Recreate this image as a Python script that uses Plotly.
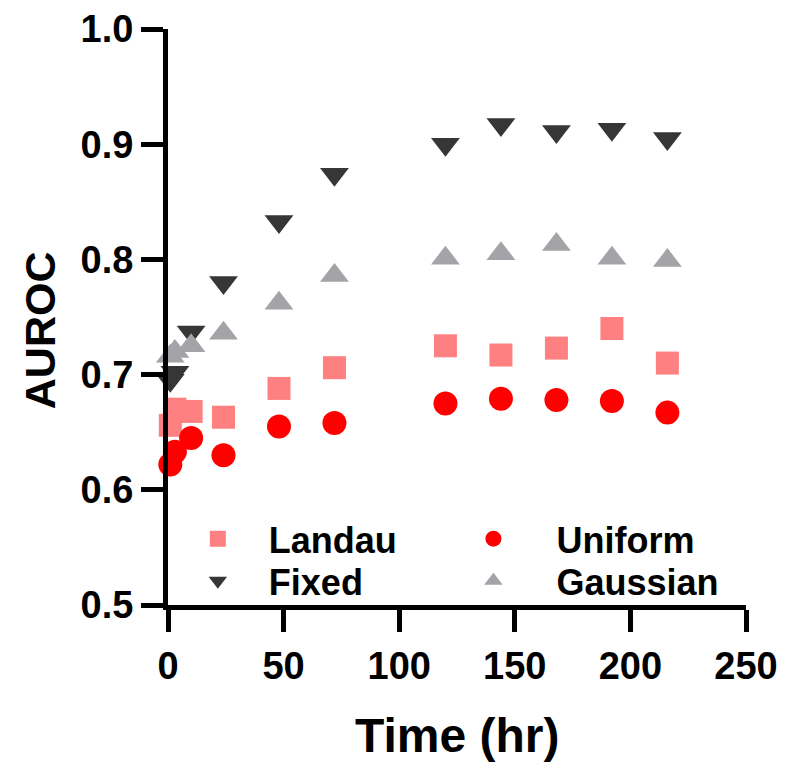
import plotly.graph_objects as go

# ---- data ----
time_hr = [1, 3, 10, 24, 48, 72, 120, 144, 168, 192, 216]
landau = [0.656, 0.670, 0.668, 0.663, 0.688, 0.706, 0.725, 0.717, 0.723, 0.740, 0.710]
uniform = [0.622, 0.633, 0.645, 0.630, 0.655, 0.658, 0.675, 0.679, 0.678, 0.677, 0.667]
fixed = [0.695, 0.702, 0.737, 0.780, 0.833, 0.874, 0.900, 0.917, 0.911, 0.913, 0.905]
gaussian = [0.716, 0.720, 0.725, 0.736, 0.762, 0.786, 0.801, 0.805, 0.813, 0.801, 0.799]

x_ticks = [0, 50, 100, 150, 200, 250]
y_ticks = [0.5, 0.6, 0.7, 0.8, 0.9, 1.0]
y_tick_text = ["0.5", "0.6", "0.7", "0.8", "0.9", "1.0"]
x_title = "Time (hr)"
y_title = "AUROC"

FONT = "Liberation Sans, Arial, Helvetica, sans-serif"

series = [
    ("Fixed", fixed, "triangle-down", "#363636", 25, "legend3"),
    ("Gaussian", gaussian, "triangle-up", "#A3A3A8", 25, "legend4"),
    ("Landau", landau, "square", "#FF8080", 23, "legend"),
    ("Uniform", uniform, "circle", "#FF0000", 24, "legend2"),
]

fig = go.Figure()
for name, vals, sym, col, size, leg in series:
    fig.add_trace(go.Scatter(
        x=time_hr, y=vals, mode="markers", name=name,
        marker=dict(symbol=sym, color=col, size=size, line=dict(width=0)),
        cliponaxis=False, legend=leg, showlegend=True,
    ))

axis_common = dict(
    showline=True, linecolor="black", linewidth=5,
    ticks="outside", ticklen=22, tickwidth=5, tickcolor="black",
    showgrid=False, zeroline=False, automargin=False,
    tickfont=dict(family=FONT, size=38, color="black", weight="bold"),
)

fig.update_xaxes(
    range=[0, 250], tickvals=x_ticks, ticktext=[str(v) for v in x_ticks],
    ticklabelstandoff=1,
    **axis_common,
)
fig.update_yaxes(
    range=[0.5, 1.0], tickvals=y_ticks, ticktext=y_tick_text,
    ticklabelstandoff=0,
    **axis_common,
)

fig.add_annotation(text=y_title, xref="paper", yref="paper", x=-0.2215, y=0.477,
                   xanchor="center", yanchor="middle", textangle=-90, showarrow=False,
                   font=dict(family=FONT, size=43, color="black", weight="bold"))
fig.add_annotation(text=x_title, xref="paper", yref="paper", x=0.5, y=-0.2257,
                   xanchor="center", yanchor="middle", showarrow=False,
                   font=dict(family=FONT, size=48, color="black", weight="bold"))

legend_font = dict(family=FONT, size=36, color="black", weight="bold")
def leg(x, y, iw):
    return dict(x=x, y=y, xanchor="left", yanchor="middle", font=legend_font,
                bgcolor="rgba(0,0,0,0)", itemwidth=iw, tracegroupgap=0)

fig.update_layout(
    width=780, height=758,
    margin=dict(l=160, r=42, t=21, b=161),
    plot_bgcolor="white", paper_bgcolor="white",
    showlegend=True,
    legend=leg(-0.002, 0.115, 92),
    legend2=leg(0.454, 0.115, 116),
    legend3=leg(-0.002, 0.042, 92),
    legend4=leg(0.454, 0.042, 116),
)

fig.write_html("out.html")
